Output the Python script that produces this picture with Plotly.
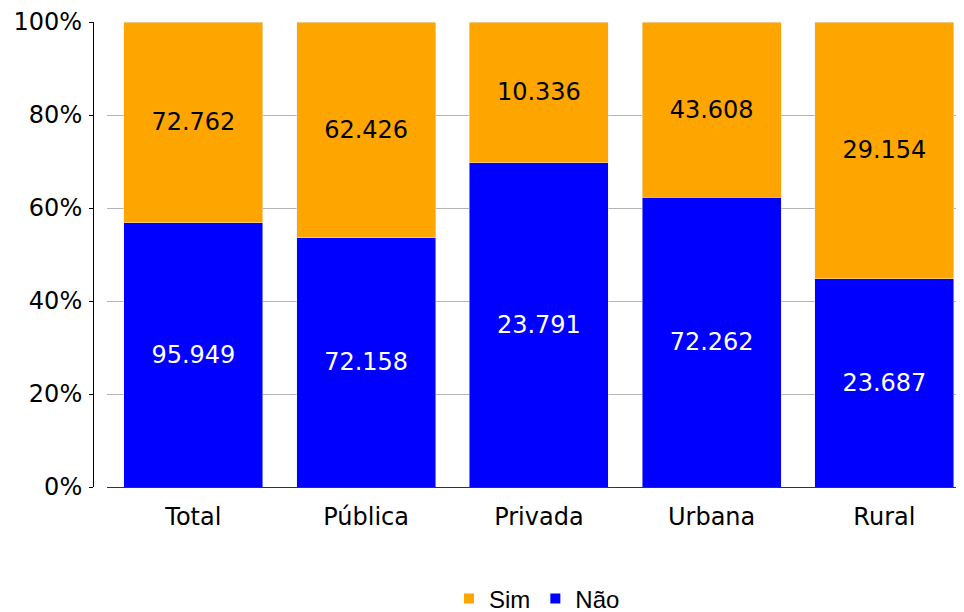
import plotly.graph_objects as go

categories = ["Total", "Pública", "Privada", "Urbana", "Rural"]
sim_values = [72762, 62426, 10336, 43608, 29154]
nao_values = [95949, 72158, 23791, 72262, 23687]
y_tick_vals = [0, 20, 40, 60, 80, 100]
y_tick_text = ["0%", "20%", "40%", "60%", "80%", "100%"]

ORANGE = "#FFA500"
BLUE = "#0000FF"
AXIS_FONT = "DejaVu Sans, Verdana, sans-serif"
LEGEND_FONT = "Liberation Sans, Arial, sans-serif"


def fmt(v):
    return f"{v:,}".replace(",", ".")


# page has an 8px body margin, so the figure is shifted by 8px
W, H = 956, 604
ML, MR, MT, MB = 85, 0, 14, 125
paper_w = W - ML - MR
plot_h = H - MT - MB

fig = go.Figure()
fig.add_trace(go.Bar(
    x=categories, y=nao_values, name="Não", marker_color=BLUE,
    text=[fmt(v) for v in nao_values], texttemplate="%{text}",
    textposition="inside", insidetextanchor="middle",
    textfont=dict(color="white", size=24, family=AXIS_FONT),
    constraintext="none", showlegend=False, hoverinfo="skip",
))
fig.add_trace(go.Bar(
    x=categories, y=sim_values, name="Sim", marker_color=ORANGE,
    text=[fmt(v) for v in sim_values], texttemplate="%{text}",
    textposition="inside", insidetextanchor="middle",
    textfont=dict(color="black", size=24, family=AXIS_FONT),
    constraintext="none", showlegend=False, hoverinfo="skip",
))
# legend entries
fig.add_trace(go.Scatter(x=[None], y=[None], mode="markers", name="Sim",
                         marker=dict(symbol="square", size=10, color=ORANGE)))
fig.add_trace(go.Scatter(x=[None], y=[None], mode="markers", name="Não",
                         marker=dict(symbol="square", size=10, color=BLUE)))

fig.update_layout(
    width=W, height=H,
    margin=dict(l=ML, r=MR, t=MT, b=MB, pad=0, autoexpand=False),
    barmode="stack", barnorm="percent", bargap=0.195,
    plot_bgcolor="white", paper_bgcolor="white",
    font=dict(family=AXIS_FONT, size=24, color="black"),
    showlegend=True,
    legend=dict(orientation="h", x=(529 - ML) / paper_w, xanchor="center",
                y=-(591 - (MT + plot_h)) / plot_h, yanchor="middle",
                font=dict(family=LEGEND_FONT, size=24, color="black"),
                itemwidth=30, traceorder="normal", bgcolor="rgba(0,0,0,0)"),
    xaxis=dict(domain=[14 / paper_w, 1], range=[-0.5, 4.461],
               showline=True, linecolor="#333333", linewidth=1,
               showgrid=False, ticks="", tickfont=dict(size=24),
               ticklabelstandoff=8, fixedrange=True, automargin=False),
    yaxis=dict(anchor="free", position=0, range=[0, 100],
               tickvals=y_tick_vals, ticktext=y_tick_text,
               showline=True, linecolor="black", linewidth=1,
               ticks="outside", ticklen=4, tickcolor="black",
               showgrid=True, gridcolor="#b4b4b4", gridwidth=1,
               zeroline=False, tickfont=dict(size=24),
               ticklabelstandoff=2, fixedrange=True, automargin=False),
)

fig.write_html("out.html", config={"displayModeBar": False})
